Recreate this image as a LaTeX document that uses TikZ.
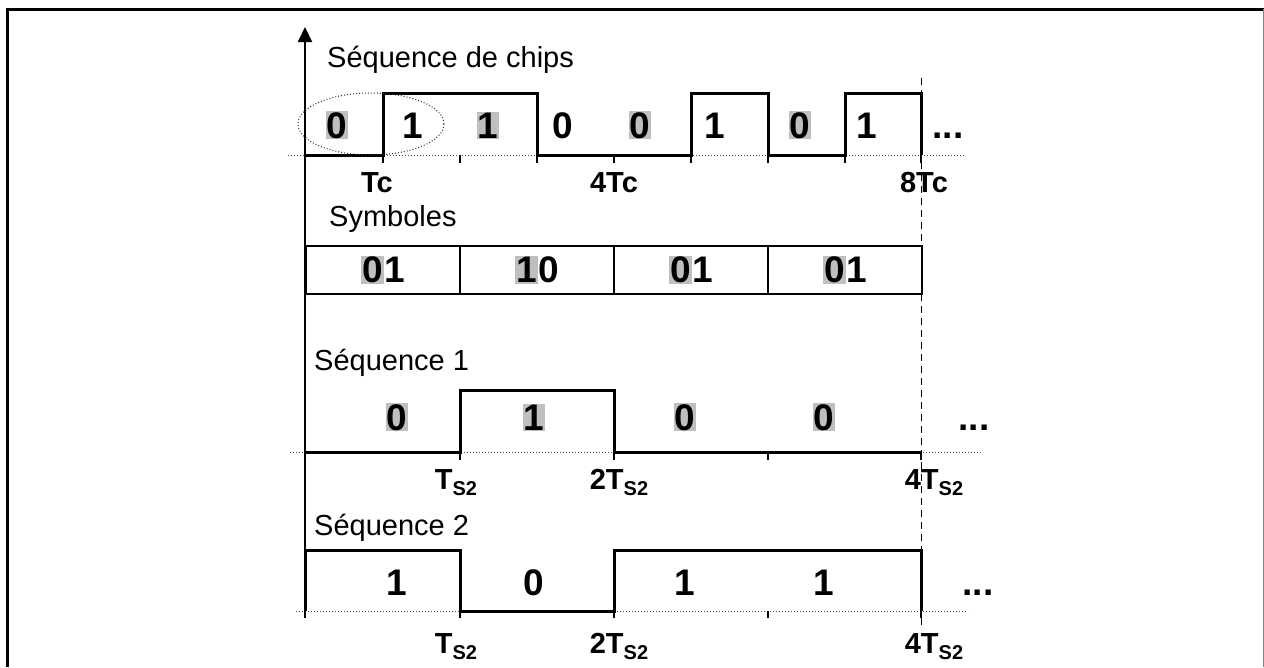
\documentclass[tikz,border=0pt]{standalone}
\usepackage{fontspec}
\setmainfont{Liberation Sans}
\usetikzlibrary{arrows.meta}
\newcommand\hlbox[1]{{\setlength{\fboxsep}{1pt}\colorbox{black!25}{#1}}}
\newcommand\tsub[1]{T\raisebox{-6pt}{\fontsize{20}{24}\selectfont #1}}
\begin{document}
\begin{tikzpicture}[x=1pt,y=-1pt,
  lbl/.style={font=\fontsize{29}{34}\selectfont, inner sep=0pt, anchor=base west},
  dig/.style={font=\fontsize{37}{42}\selectfont\bfseries, inner sep=0pt, anchor=base},
  tlab/.style={font=\fontsize{29}{34}\selectfont\bfseries, inner sep=0pt, anchor=base},
  wave/.style={line width=3pt, line join=miter},
  base/.style={dotted, line width=1pt, black!70},
  tickmark/.style={line width=2pt},
  symbox/.style={draw, line width=2pt, minimum width=154pt, minimum height=48pt, inner sep=0pt, anchor=north west, font=\fontsize{37}{42}\selectfont\bfseries},
]
\useasboundingbox (0,0) rectangle (1264,667);
% frame
\draw[line width=3pt] (7,667) -- (7,9) -- (1264,9);
\draw[black!50, line width=1pt] (1263,9) -- (1263,667);
% dotted baselines
\draw[base] (288,155) -- (966,155);
\draw[base] (290,452) -- (982,452);
\draw[base] (296,611) -- (968,611);
% dashed marker
\draw[line width=1pt, dash pattern=on 7pt off 5pt] (921,78) -- (921,630);
% axis
\draw[line width=2pt, -{Triangle[length=15pt,width=14pt]}] (305,618) -- (305,27);
% titles
\node[lbl] (t1) at (327,67) {Séquence de chips};
\node[lbl] (t2) at (329,226) {Symboles};
\node[lbl] (t3) at (314,370) {Séquence 1};
\node[lbl] (t4) at (314,535) {Séquence 2};
% chip waveform
\draw[wave] (305,155) -- (383,155) -- (383,93) -- (537,93) -- (537,155) -- (691,155) -- (691,93) -- (768,93) -- (768,155) -- (845,155) -- (845,93) -- (921,93) -- (921,155);
\foreach \x in {383,460,537,614,691,768,845,921} \draw[tickmark] (\x,155) -- (\x,163);
\draw[dotted, line width=1pt, black!80] (371,124) ellipse [x radius=73, y radius=31];
\node[dig] (c1) at (337,138) {\hlbox{0}};
\node[dig] (c2) at (413,138) {1};
\node[dig] (c3) at (488,138) {\hlbox{1}};
\node[dig] (c4) at (563,138) {0};
\node[dig] (c5) at (640,138) {\hlbox{0}};
\node[dig] (c6) at (715,138) {1};
\node[dig] (c7) at (800,138) {\hlbox{0}};
\node[dig] (c8) at (867,138) {1};
\node[dig] (cd) at (948,138) {...};
\node[tlab] (tc1) at (377,192) {Tc};
\node[tlab] (tc4) at (614,192) {4Tc};
\node[tlab] (tc8) at (924,192) {8Tc};
% symbols
\node[symbox] (s1) at (305,245) {\hlbox{0}1};
\node[symbox] (s2) at (459,245) {\hlbox{1}0};
\node[symbox] (s3) at (613,245) {\hlbox{0}1};
\node[symbox] (s4) at (767,245) {\hlbox{0}1};
% sequence 1
\draw[wave] (305,452) -- (460,452) -- (460,390) -- (614,390) -- (614,452) -- (921,452);
\foreach \x in {460,614,768,921} \draw[tickmark] (\x,452) -- (\x,460);
\node[dig] (a1) at (397,430) {\hlbox{0}};
\node[dig] (a2) at (534,430) {\hlbox{1}};
\node[dig] (a3) at (685,430) {\hlbox{0}};
\node[dig] (a4) at (824,430) {\hlbox{0}};
\node[dig] (ad) at (974,430) {...};
\node[tlab] (ta1) at (456,489) {\tsub{S2}};
\node[tlab] (ta2) at (619,489) {2\tsub{S2}};
\node[tlab] (ta4) at (934,489) {4\tsub{S2}};
% sequence 2
\draw[wave] (305,611) -- (305,550) -- (460,550) -- (460,611) -- (614,611) -- (614,550) -- (921,550) -- (921,611);
\foreach \x in {305,460,614,768,921} \draw[tickmark] (\x,611) -- (\x,618);
\node[dig] (b1) at (397,595) {1};
\node[dig] (b2) at (534,595) {0};
\node[dig] (b3) at (685,595) {1};
\node[dig] (b4) at (824,595) {1};
\node[dig] (bd) at (978,595) {...};
\node[tlab] (tb1) at (456,653) {\tsub{S2}};
\node[tlab] (tb2) at (619,653) {2\tsub{S2}};
\node[tlab] (tb4) at (934,653) {4\tsub{S2}};
\end{tikzpicture}
\end{document}
